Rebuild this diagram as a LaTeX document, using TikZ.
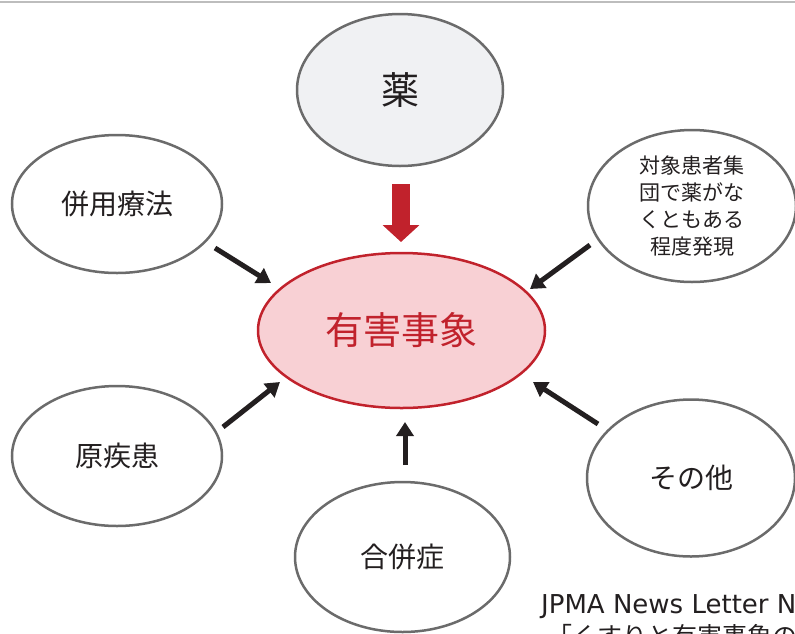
\documentclass[tikz,border=0pt]{standalone}
\usepackage{fontspec}
\setmainfont{Noto Sans CJK JP}
\newfontfamily\latinfont{DejaVu Sans}
\usetikzlibrary{shapes.geometric,arrows.meta}
\definecolor{edgegray}{HTML}{6B6B6B}
\definecolor{lightfill}{HTML}{F0F1F3}
\definecolor{pinkfill}{HTML}{F8D0D4}
\definecolor{redc}{HTML}{C1222C}
\definecolor{inkc}{HTML}{231F20}
\definecolor{rulegray}{HTML}{BDBDBD}
\tikzset{
  bubble/.style={ellipse, draw=edgegray, line width=2.5pt, fill=white, inner sep=0pt,
    text=inkc, align=center, font=\fontsize{28}{34}\selectfont},
  push/.style={draw=inkc, line width=5pt, -{Triangle[length=14pt,width=17pt]}},
  bigpush/.style={draw=redc, line width=18pt, -{Triangle[length=17pt,width=36pt]}},
}
\begin{document}
\begin{tikzpicture}[x=1pt,y=-1pt]
\useasboundingbox (0,0) rectangle (795,633);
\clip (0,0) rectangle (795,633);
\draw[rulegray, line width=2pt] (0,1.5) -- (795,1.5);

\node[bubble, fill=lightfill, minimum width=206pt, minimum height=152pt,
  font=\fontsize{38}{44}\selectfont] (kusuri) at (400,90) {薬};
\node[bubble, draw=redc, fill=pinkfill, text=redc, minimum width=287pt, minimum height=155pt,
  font=\fontsize{38}{44}\selectfont] (yugai) at (401.5,330.5) {有害事象};
\node[bubble, minimum width=210pt, minimum height=138pt] (heiyo) at (117,204) {併用療法};
\node[bubble, minimum width=210pt, minimum height=140pt] (genshikkan) at (117,456) {原疾患};
\node[bubble, minimum width=215pt, minimum height=150pt] (gappei) at (402.5,557) {合併症};
\node[bubble, minimum width=208pt, minimum height=157pt] (sonota) at (691,478) {その他};
\node[bubble, minimum width=208pt, minimum height=152pt,
  font=\fontsize{21}{27}\selectfont] (taisho) at (692,206) {対象患者集\\団で薬がな\\くともある\\程度発現};

\coordinate (kusuriout) at (401,184);
\coordinate (kusuriin) at (401,242);
\draw[bigpush] (kusuriout) -- (kusuriin);

\coordinate (heiyoout) at (215,248);
\coordinate (heiyoin) at (271,283);
\draw[push] (heiyoout) -- (heiyoin);

\coordinate (genout) at (223,427);
\coordinate (genin) at (280,382);
\draw[push] (genout) -- (genin);

\coordinate (taiout) at (590,245);
\coordinate (taiin) at (530,289);
\draw[push] (taiout) -- (taiin);

\coordinate (sonout) at (598,424);
\coordinate (sonin) at (533,382);
\draw[push] (sonout) -- (sonin);

\coordinate (gapout) at (405,465);
\coordinate (gapin) at (405,422);
\draw[push] (gapout) -- (gapin);

\node[anchor=base west, inner sep=0pt, text=inkc, font=\latinfont\fontsize{26}{30}\selectfont] (src1) at (541,613) {JPMA News Letter No};
\node[anchor=base west, inner sep=0pt, text=inkc, font=\fontsize{25}{30}\selectfont] (src2) at (547,645) {「くすりと有害事象の関係」};
\end{tikzpicture}
\end{document}
